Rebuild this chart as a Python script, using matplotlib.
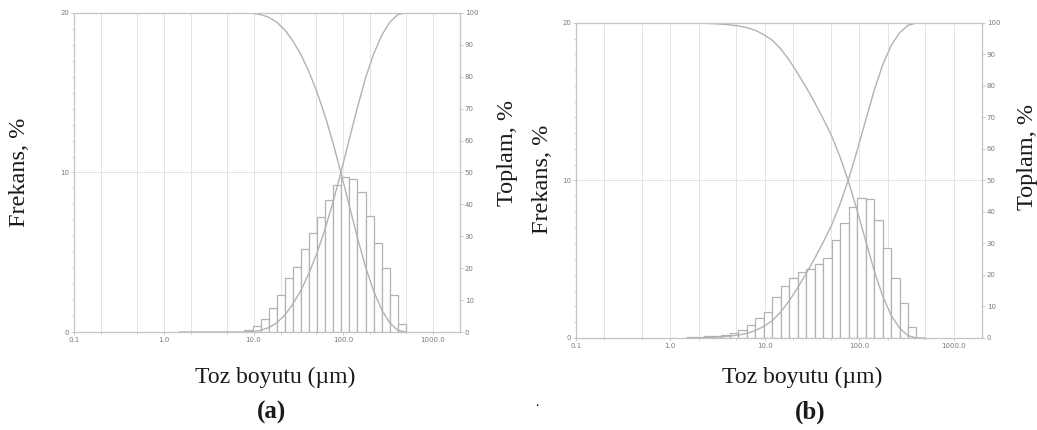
import matplotlib

matplotlib.use("Agg")
import numpy as np
import matplotlib.pyplot as plt
from matplotlib.ticker import FixedLocator, MultipleLocator, NullFormatter

# size class edges (µm), shared by both samples
edges = [1.51, 1.86, 2.29, 2.82, 3.46, 4.26, 5.24, 6.45, 7.93, 9.75, 12.0,
         14.8, 18.2, 22.3, 27.5, 33.8, 41.5, 51.1, 62.8, 77.3, 95.0, 117.0,
         144.0, 177.0, 218.0, 268.0, 329.0, 405.0, 498.0]

# frequency (%) per class
freq_a = [0.0, 0.0, 0.0, 0.0, 0.0, 0.0, 0.0, 0.0, 0.1, 0.4, 0.8, 1.5, 2.3,
          3.4, 4.1, 5.2, 6.2, 7.2, 8.3, 9.2, 9.7, 9.6, 8.8, 7.3, 5.6, 4.0,
          2.3, 0.5]
freq_b = [0.05, 0.05, 0.1, 0.15, 0.2, 0.3, 0.5, 0.8, 1.25, 1.65, 2.6, 3.3,
          3.8, 4.2, 4.4, 4.7, 5.1, 6.2, 7.3, 8.3, 8.9, 8.8, 7.5, 5.7, 3.8,
          2.2, 0.7, 0.0]

xticks = [0.1, 1.0, 10.0, 100.0, 1000.0]
xtick_labels = ["0.1", "1.0", "10.0", "100.0", "1000.0"]
grid_minor = [0.2, 0.5, 2, 5, 20, 50, 200, 500]

GREY = "#b2b2b2"
LIGHT = "#e4e4e4"
TXT = "#7a7a7a"
SERIF = "Liberation Serif"

fig = plt.figure(figsize=(10.37, 4.30), dpi=100)
fig.patch.set_facecolor("white")


def panel(rect, freq):
    ax = fig.add_axes(rect)
    e = np.array(edges)
    f = np.array(freq)
    ax.set_xscale("log")
    ax.set_xlim(0.1, 2000)
    ax.set_ylim(0, 20)
    ax.xaxis.set_major_locator(FixedLocator(xticks))
    ax.xaxis.set_minor_locator(FixedLocator(grid_minor))
    ax.xaxis.set_minor_formatter(NullFormatter())
    ax.set_xticklabels(xtick_labels)
    ax.yaxis.set_major_locator(MultipleLocator(10))
    ax.yaxis.set_minor_locator(MultipleLocator(1))
    ax.grid(True, which="both", axis="x", color=LIGHT, lw=0.7)
    ax.grid(True, which="major", axis="y", color=LIGHT, lw=0.7)
    ax.set_axisbelow(True)

    keep = f > 0
    ax.bar(e[:-1][keep], f[keep], width=(e[1:] - e[:-1])[keep], align="edge",
           facecolor="white", edgecolor=GREY, lw=0.9, zorder=2)

    ax2 = ax.twinx()
    ax2.set_ylim(0, 100)
    ax2.yaxis.set_major_locator(MultipleLocator(10))
    under = np.concatenate([[0], np.cumsum(f)]) / f.sum() * 100
    ax2.plot(e, under, color=GREY, lw=1.0)
    ax2.plot(e, 100 - under, color=GREY, lw=1.0)

    for a in (ax, ax2):
        for s in a.spines.values():
            s.set_color("#c4c4c4")
            s.set_linewidth(0.8)
        a.tick_params(which="both", colors="#c4c4c4", labelcolor=TXT,
                      labelsize=5, length=2, width=0.6, pad=1.5)
        a.tick_params(which="minor", length=1.2)
    return ax


panel([0.0714, 0.2279, 0.3722, 0.7419], freq_a)
panel([0.5554, 0.2140, 0.3915, 0.7326], freq_b)

lab = dict(family=SERIF, fontsize=17.5, color="#1a1a1a", rotation=90,
           ha="center", va="center")
fig.text(20 / 1037, 1 - 172 / 430, "Frekans, %", **lab)
fig.text(508 / 1037, 1 - 153 / 430, "Toplam, %", **lab)
fig.text(542 / 1037, 1 - 179 / 430, "Frekans, %", **lab)
fig.text(1027 / 1037, 1 - 157 / 430, "Toplam, %", **lab)

xl = dict(family=SERIF, fontsize=17, color="#1a1a1a", ha="center", va="center")
fig.text(275 / 1037, 1 - 377 / 430, "Toz boyutu (µm)", **xl)
fig.text(802 / 1037, 1 - 377 / 430, "Toz boyutu (µm)", **xl)
xl["fontsize"] = 18
fig.text(271 / 1037, 1 - 412 / 430, "(a)", fontweight="bold", **xl)
fig.text(810 / 1037, 1 - 412 / 430, "(b)", fontweight="bold", **xl)
fig.text(537 / 1037, 1 - 402 / 430, ".", family=SERIF, fontsize=10,
         ha="center", va="center")

fig.savefig("out.png", dpi=100, facecolor="white")
